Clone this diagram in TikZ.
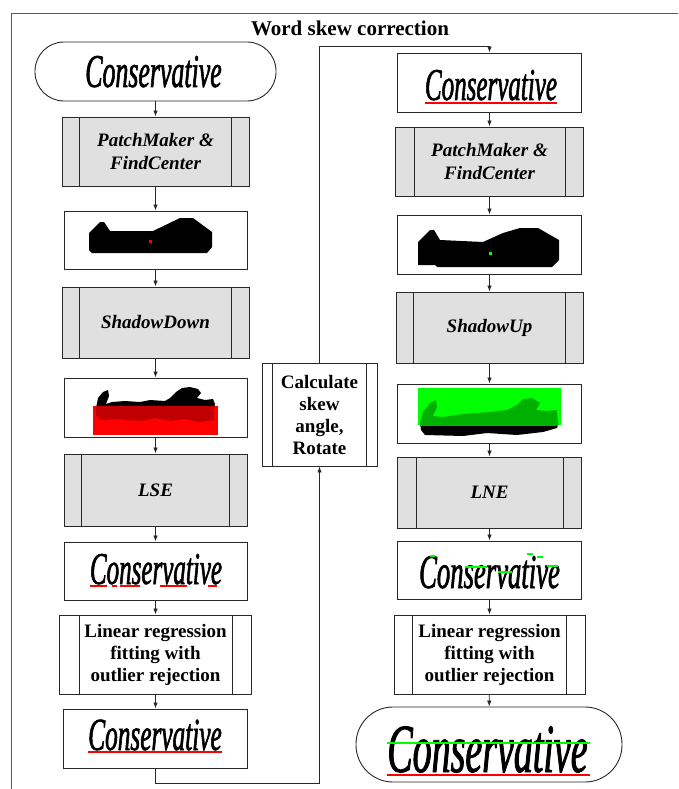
\documentclass[tikz,border=0pt]{standalone}
\usepackage{fontspec}
\setmainfont{Liberation Serif}
\newfontfamily\handfont[FakeStretch=0.55,FakeBold=1.2]{Liberation Serif}
\usetikzlibrary{arrows.meta}

\definecolor{boxgray}{RGB}{224,224,224}
\definecolor{shadered}{RGB}{192,0,0}
\definecolor{brightgreen}{RGB}{0,255,0}
\definecolor{shadegreen}{RGB}{0,176,0}
\definecolor{framegray}{RGB}{90,90,90}
\definecolor{linegray}{RGB}{40,40,40}

\tikzset{
  frameline/.style={draw=framegray, line width=1pt},
  procbox/.style={draw=linegray, line width=0.9pt, fill=boxgray, inner sep=0pt,
    align=center, font=\fontsize{19}{23}\selectfont\bfseries\itshape},
  plainproc/.style={draw=linegray, line width=0.9pt, fill=white, inner sep=0pt,
    align=center, font=\fontsize{19}{22}\selectfont\bfseries},
  imgbox/.style={draw=linegray, line width=0.9pt, fill=white, inner sep=0pt},
  terminal/.style={draw=linegray, line width=0.9pt, fill=white, inner sep=0pt, rounded corners=#1},
  flow/.style={draw=linegray, line width=0.8pt, -{Latex[length=6pt,width=4.5pt]}},
  hand/.style={inner sep=0pt, anchor=base, font=\fontsize{#1}{#1}\selectfont\handfont\itshape},
  title/.style={inner sep=0pt, anchor=base, font=\fontsize{21}{25}\selectfont\bfseries},
}

% vertical side bars of a predefined-process box
\newcommand\sidebars[2]{%
  \draw[linegray, line width=0.9pt]
    ([xshift=#2pt]#1.north west) -- ([xshift=#2pt]#1.south west)
    ([xshift=-#2pt]#1.north east) -- ([xshift=-#2pt]#1.south east);}

% outlines of the word patches and shadows
\def\patchleft{(89,233) -- (100,222) -- (104,222) -- (110,231) -- (153,231) -- (180,218) -- (193,218) -- (212,232) -- (212,247) -- (207,253) -- (92,253) -- (89,250) -- cycle}
\def\patchright{(418,242) -- (430,230) -- (434,230) -- (440,240) -- (483,242) -- (503,233) -- (520,228) -- (538,228) -- (559,240) -- (559,260) -- (552,267) -- (437,267) -- (435,265) -- (418,265) -- cycle}
\def\shadowdown{(96,408) -- (98,398) -- (103,392) -- (108,390) -- (109,396) -- (106,404) -- (112,402) -- (125,401) -- (140,402) -- (150,400) -- (165,401) -- (170,398) -- (176,392) -- (182,388) -- (190,387) -- (198,389) -- (201,393) -- (197,398) -- (205,400) -- (213,399) -- (215,404) -- (214,410) -- (214,420) -- (200,422) -- (185,419) -- (170,421) -- (155,418) -- (140,421) -- (120,419) -- (100,420) -- (96,415) -- cycle}
\def\shadowup{(420,423) -- (423,412) -- (430,403) -- (436,400) -- (437,407) -- (433,416) -- (443,417) -- (463,414) -- (490,412) -- (507,410) -- (517,405) -- (523,399) -- (532,398) -- (540,403) -- (536,410) -- (547,411) -- (557,410) -- (558,425) -- (557,428) -- (543,432) -- (517,435) -- (487,433) -- (463,436) -- (425,435) -- (421,430) -- cycle}

\begin{document}
\begin{tikzpicture}[x=1pt,y=-1pt]
  \useasboundingbox (0,0) rectangle (678,789);

  % outer frame and title
  \draw[frameline] (11,789) -- (11,14) -- (678,14);
  \node[title] (ttl) at (350,36) {Word skew correction};

  % ---------------- left column ----------------
  \node[terminal=29pt, minimum width=241pt, minimum height=59pt] (startA) at (155.5,71.5) {};
  \node[hand=47] (wordA) at (153.5,87) {Conservative};

  \node[procbox, minimum width=187pt, minimum height=69pt] (pmA) at (155.5,151.5) {PatchMaker \&\\FindCenter};
  \sidebars{pmA}{18}

  \node[imgbox, minimum width=183pt, minimum height=58pt] (patchA) at (155.5,240) {};
  \fill[black] \patchleft;
  \fill[red] (148.5,239.5) rectangle (151.5,242.5);

  \node[procbox, minimum width=187pt, minimum height=71pt] (sdown) at (155.5,322.5) {ShadowDown};
  \sidebars{sdown}{18}

  \node[imgbox, minimum width=183pt, minimum height=59pt] (shadA) at (155.5,407.5) {};
  \fill[black] \shadowdown;
  \fill[red] (93,406) rectangle (218,435);
  \begin{scope}
    \clip (93,406) rectangle (218,435);
    \fill[shadered] \shadowdown;
  \end{scope}

  \node[procbox, minimum width=183pt, minimum height=72pt] (lse) at (155.5,490) {LSE};
  \sidebars{lse}{18}

  \node[imgbox, minimum width=183pt, minimum height=58pt] (lowA) at (155.5,571) {};
  \node[hand=45.5] (wordB) at (156,584) {Conservative};
  \draw[red, line width=1.2pt] (90,586) -- (107,586) (112,586) -- (117,586)
    (120,586) -- (140,586) (160,586) -- (187,586) (208,586) -- (217,586);

  \node[plainproc, minimum width=192pt, minimum height=79pt] (fitA) at (155.5,654.5)
    {Linear regression\\fitting with\\outlier rejection};
  \sidebars{fitA}{20}

  \node[imgbox, minimum width=184pt, minimum height=59pt] (lineA) at (155.5,738.5) {};
  \node[hand=46] (wordC) at (155,750) {Conservative};
  \draw[red, line width=1.2pt] (88,752) -- (222,752);

  % ---------------- middle: rotation step ----------------
  \node[plainproc, minimum width=115pt, minimum height=103pt] (calc) at (319.5,414.5)
    {Calculate\\skew\\angle,\\Rotate};
  \sidebars{calc}{11}

  % ---------------- right column ----------------
  \node[imgbox, minimum width=184pt, minimum height=59pt] (rotW) at (489.5,82.5) {};
  \node[hand=45.5] (wordD) at (491,100) {Conservative};
  \draw[red, line width=1.2pt] (425,103) -- (557,103);

  \node[procbox, minimum width=188pt, minimum height=69pt] (pmB) at (489.5,161.5) {PatchMaker \&\\FindCenter};
  \sidebars{pmB}{19}

  \node[imgbox, minimum width=184pt, minimum height=59pt] (patchB) at (489.5,244.5) {};
  \fill[black] \patchright;
  \fill[brightgreen] (488.5,251.5) rectangle (491.5,254.5);

  \node[procbox, minimum width=187pt, minimum height=71pt] (sup) at (489.5,327.5) {ShadowUp};
  \sidebars{sup}{18}

  \node[imgbox, minimum width=184pt, minimum height=59pt] (shadB) at (489.5,413.5) {};
  \fill[black] \shadowup;
  \fill[brightgreen] (418,388) rectangle (561,425);
  \begin{scope}
    \clip (418,388) rectangle (561,425);
    \fill[shadegreen] \shadowup;
  \end{scope}

  \node[procbox, minimum width=184pt, minimum height=71pt] (lne) at (489.5,492.5) {LNE};
  \sidebars{lne}{19}

  \node[imgbox, minimum width=184pt, minimum height=58pt] (topB) at (489.5,570) {};
  \node[hand=48.5] (wordE) at (489.5,588) {Conservative};
  \draw[brightgreen, line width=1.2pt] (430,556) -- (435,556) (465,567) -- (487,567)
    (498,572) -- (512,572) (527,554) -- (533,554) (537,557) -- (543,557) (547,566) -- (558,566);

  \node[plainproc, minimum width=191pt, minimum height=79pt] (fitB) at (489.5,654.5)
    {Linear regression\\fitting with\\outlier rejection};
  \sidebars{fitB}{19}

  \node[terminal=37pt, minimum width=266pt, minimum height=75pt] (endB) at (489,744.5) {};
  \node[hand=69] (wordF) at (487.5,772) {Conservative};
  \draw[brightgreen, line width=1.5pt] (387,743) -- (590,743);
  \draw[red, line width=1.5pt] (387,775) -- (590,775);

  % ---------------- connectors ----------------
  \draw[flow] (startA) -- (pmA);
  \draw[flow] (pmA) -- (patchA);
  \draw[flow] (patchA) -- (sdown);
  \draw[flow] (sdown) -- (shadA);
  \draw[flow] (shadA) -- (lse);
  \draw[flow] (lse) -- (lowA);
  \draw[flow] (lowA) -- (fitA);
  \draw[flow] (fitA) -- (lineA);

  \coordinate (loopLow) at (155.5,783);
  \draw[flow] (lineA.south) -- (loopLow) -| (calc.south);
  \coordinate (loopTop) at (319.5,46);
  \draw[flow] (calc.north) -- (loopTop) -| (rotW.north);

  \draw[flow] (rotW) -- (pmB);
  \draw[flow] (pmB) -- (patchB);
  \draw[flow] (patchB) -- (sup);
  \draw[flow] (sup) -- (shadB);
  \draw[flow] (shadB) -- (lne);
  \draw[flow] (lne) -- (topB);
  \draw[flow] (topB) -- (fitB);
  \draw[flow] (fitB) -- (endB);
\end{tikzpicture}
\end{document}
